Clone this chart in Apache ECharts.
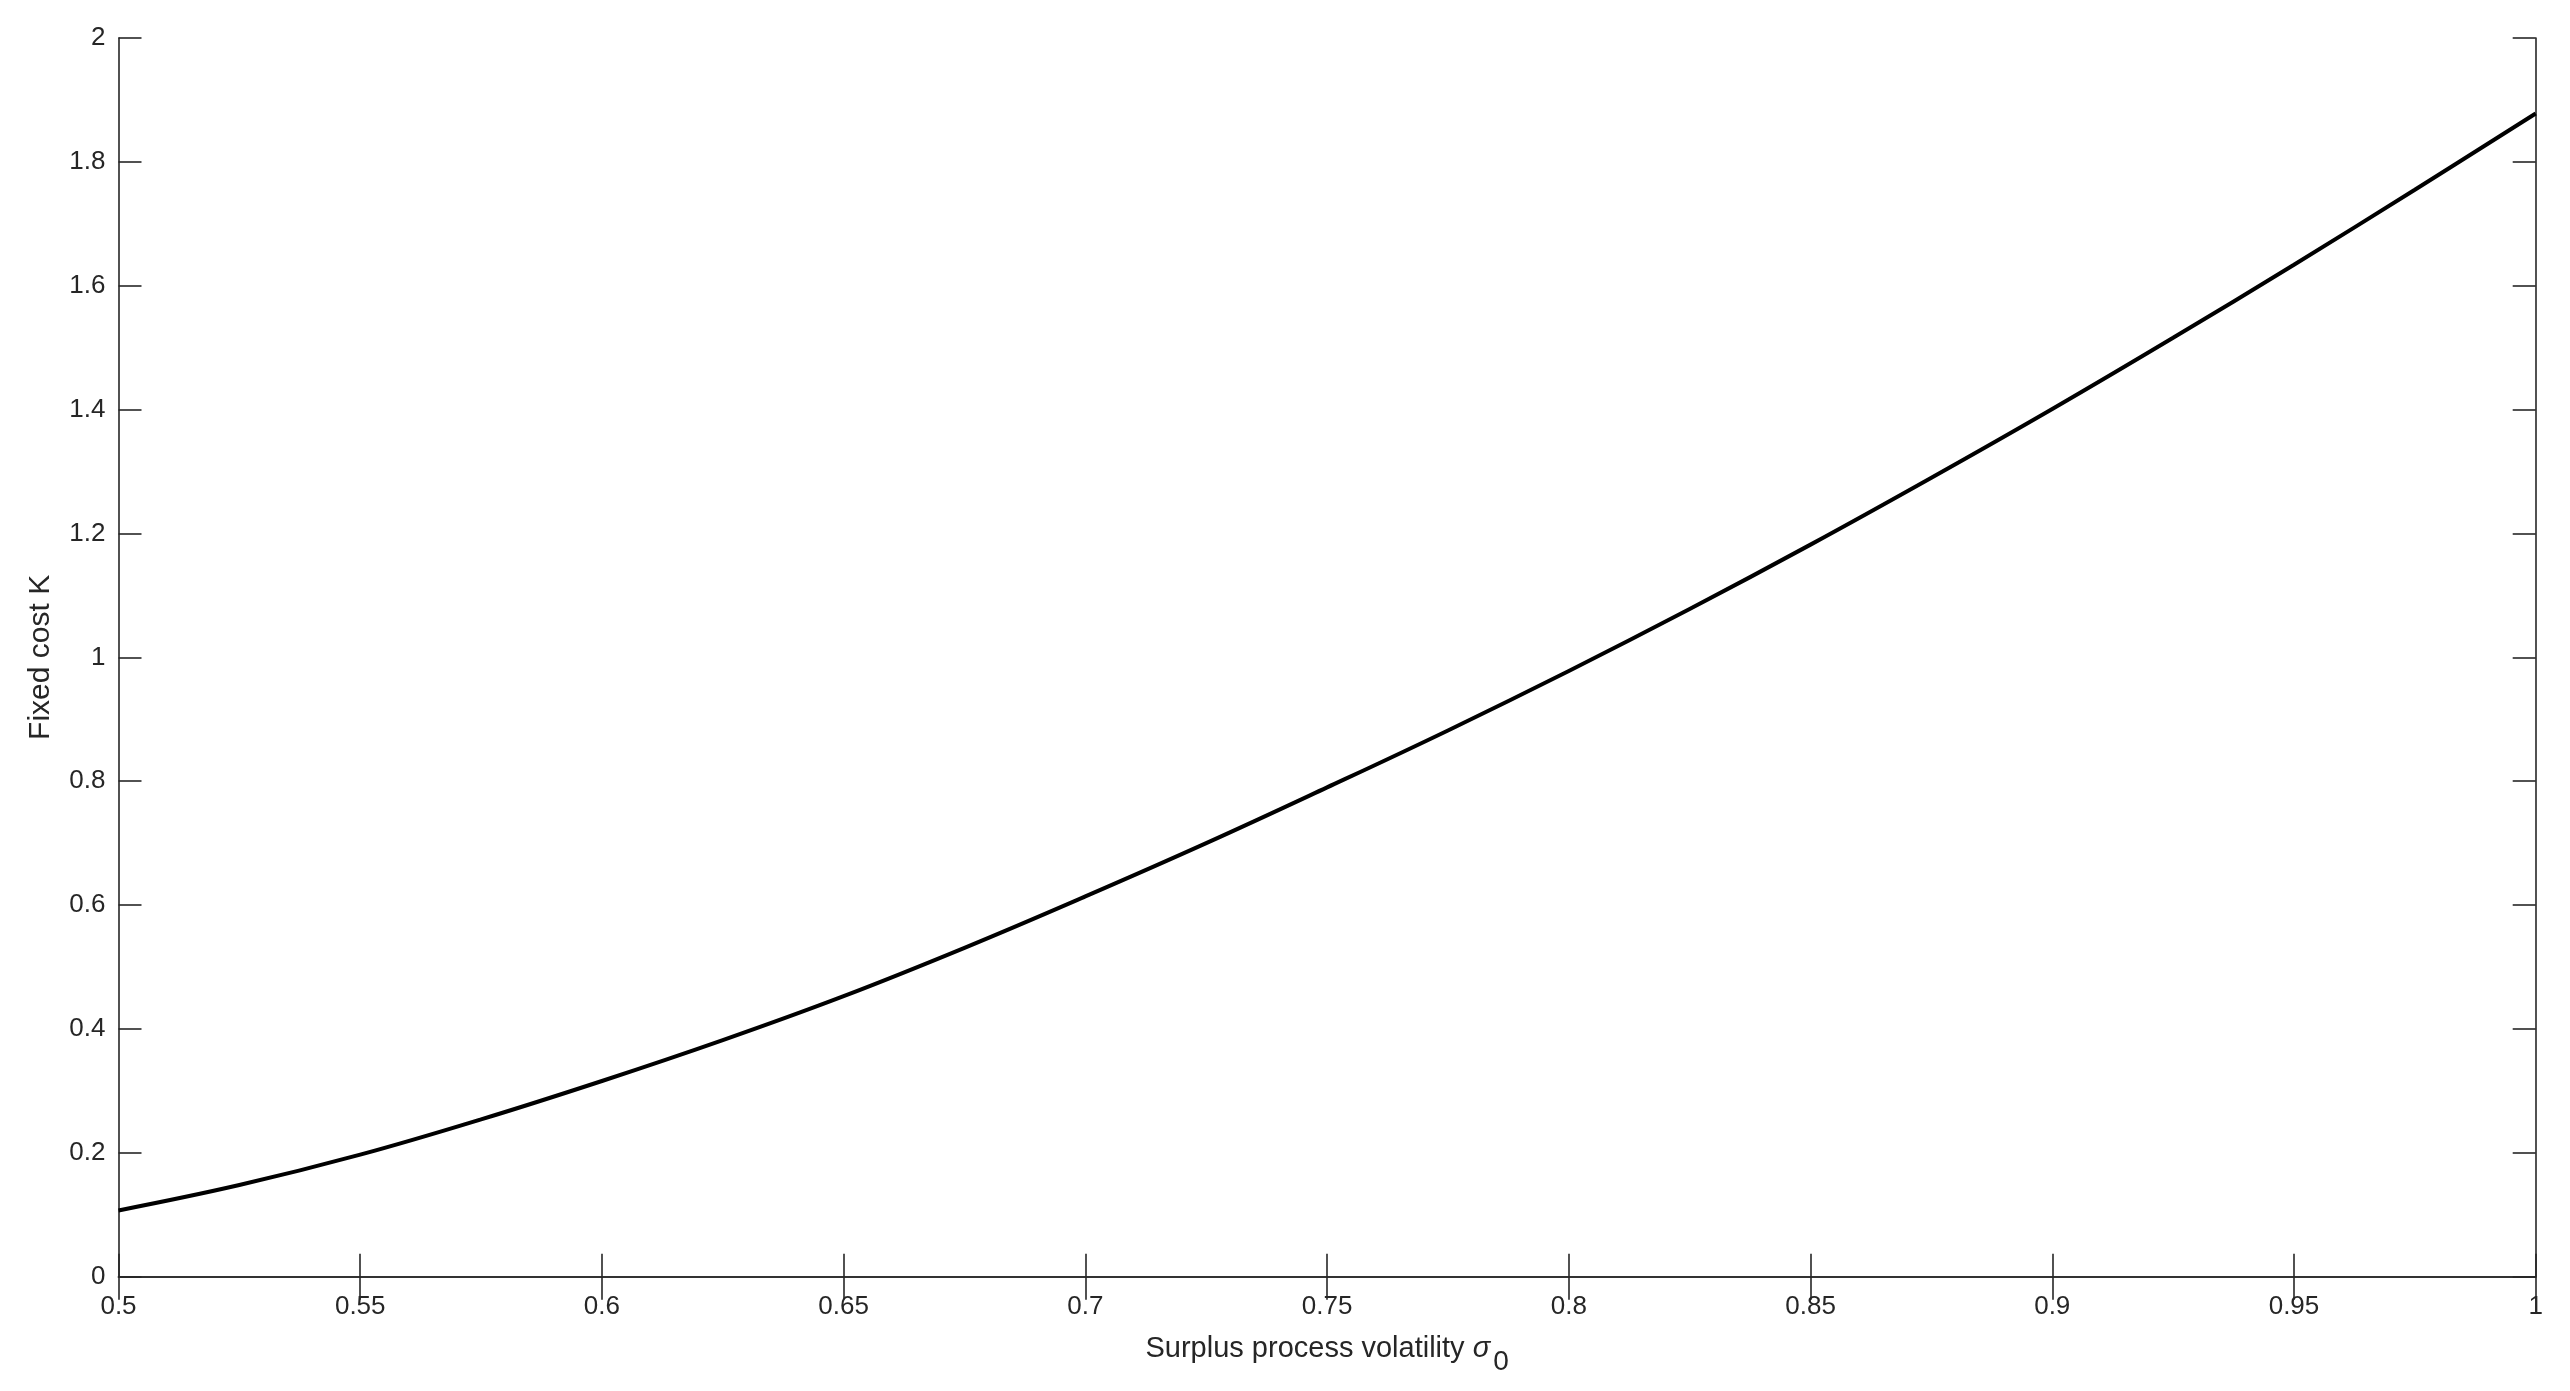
<!DOCTYPE html>
<html>
<head>
<meta charset="utf-8">
<script src="https://cdn.jsdelivr.net/npm/echarts@6/dist/echarts.min.js"></script>
<style>
html,body{margin:0;padding:0;background:#fff;}
#chart{width:2570px;height:1391px;}
</style>
</head>
<body>
<div id="chart"></div>
<script>
// Surplus process volatility sigma_0 (x) and fixed cost K (y)
var sigmaValues = [0.5, 0.525, 0.55, 0.575, 0.6, 0.625, 0.65, 0.675, 0.7, 0.725, 0.75,
                   0.775, 0.8, 0.825, 0.85, 0.875, 0.9, 0.925, 0.95, 0.975, 1.0];
var costValues  = [0.107, 0.148, 0.197, 0.254, 0.316, 0.382, 0.453, 0.531, 0.614, 0.700, 0.790,
                   0.882, 0.978, 1.078, 1.182, 1.290, 1.401, 1.516, 1.634, 1.755, 1.878];
var xTicks = {min: 0.5, max: 1.0, interval: 0.05};
var yTicks = {min: 0, max: 2, interval: 0.2};

var FONT = '"Liberation Sans", Arial, Helvetica, sans-serif';
var AX = '#262626';

var seriesData = sigmaValues.map(function (s, i) { return [s, costValues[i]]; });

function fmt(v) {
  return (Math.round(v * 100) / 100).toString();
}

var chart = echarts.init(document.getElementById('chart'), null, {renderer: 'canvas'});
var baseAxisLine = {show: true, lineStyle: {color: AX, width: 1.6}};
var baseTick = {show: true, inside: true, length: 23, lineStyle: {color: AX, width: 1.6}};

chart.setOption({
  animation: false,
  backgroundColor: '#ffffff',
  grid: {left: 118.5, right: 34.3, top: 38, bottom: 114.3, containLabel: false},
  xAxis: [{
    type: 'value', position: 'bottom',
    min: xTicks.min, max: xTicks.max, interval: xTicks.interval,
    axisLine: baseAxisLine, axisTick: baseTick, splitLine: {show: false},
    axisLabel: {color: AX, fontSize: 26, fontFamily: FONT, margin: 17, formatter: fmt},
    name: '{t|Surplus process volatility }{s|σ}{sub|0}',
    nameLocation: 'middle', nameGap: 58,
    nameTextStyle: {
      rich: {
        t: {fontSize: 29, color: AX, fontFamily: FONT, lineHeight: 36, verticalAlign: 'top'},
        s: {fontSize: 29, color: AX, fontFamily: FONT, fontStyle: 'italic', lineHeight: 36, verticalAlign: 'top'},
        sub: {fontSize: 28, color: AX, fontFamily: FONT, lineHeight: 36, verticalAlign: 'top', padding: [14, 0, 0, 3]}
      }
    }
  }, {
    type: 'value', position: 'top',
    min: xTicks.min, max: xTicks.max, interval: xTicks.interval,
    axisLine: baseAxisLine, axisTick: baseTick, splitLine: {show: false},
    axisLabel: {show: false}
  }],
  yAxis: [{
    type: 'value', position: 'left',
    min: yTicks.min, max: yTicks.max, interval: yTicks.interval,
    axisLine: baseAxisLine, axisTick: baseTick, splitLine: {show: false},
    axisLabel: {color: AX, fontSize: 26, fontFamily: FONT, margin: 13, formatter: fmt},
    name: 'Fixed cost K', nameLocation: 'middle', nameGap: 63, nameRotate: 90,
    nameTextStyle: {color: AX, fontSize: 30, fontFamily: FONT}
  }, {
    type: 'value', position: 'right',
    min: yTicks.min, max: yTicks.max, interval: yTicks.interval,
    axisLine: baseAxisLine, axisTick: baseTick, splitLine: {show: false},
    axisLabel: {show: false}
  }],
  series: [{
    type: 'line',
    xAxisIndex: 0, yAxisIndex: 0,
    data: seriesData,
    smooth: 0.4,
    showSymbol: false,
    symbol: 'none',
    lineStyle: {color: '#000000', width: 4},
    clip: false
  }]
});
</script>
</body>
</html>
